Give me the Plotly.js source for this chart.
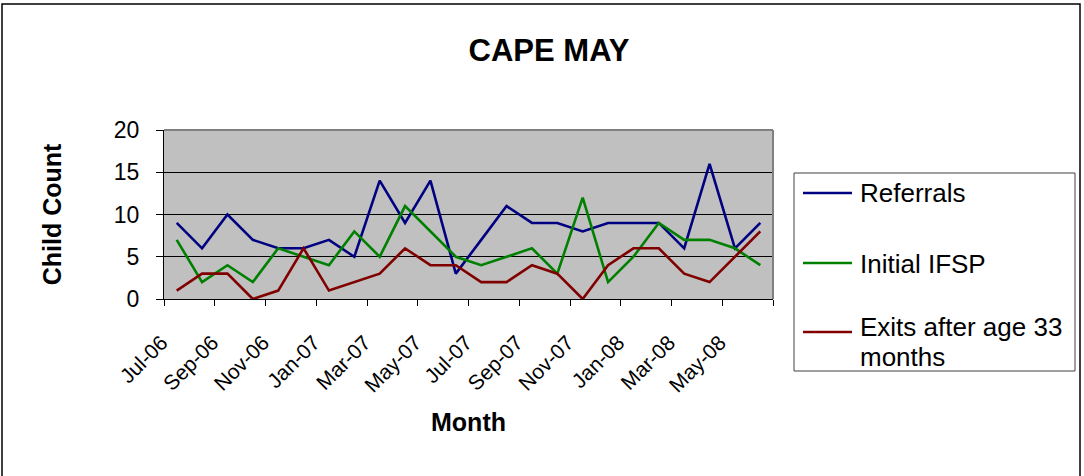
<!DOCTYPE html>
<html>
<head>
<meta charset="utf-8">
<script src="https://cdn.plot.ly/plotly-3.0.1.min.js"></script>
<style>html,body{margin:0;padding:0;background:#fff;}#chart{width:1084px;height:476px;}</style>
</head>
<body>
<div id="chart"></div>
<script>
const months = ["Jul-06","Aug-06","Sep-06","Oct-06","Nov-06","Dec-06","Jan-07","Feb-07","Mar-07","Apr-07","May-07","Jun-07","Jul-07","Aug-07","Sep-07","Oct-07","Nov-07","Dec-07","Jan-08","Feb-08","Mar-08","Apr-08","May-08","Jun-08"];
const referrals = [9,6,10,7,6,6,7,5,14,9,14,3,7,11,9,9,8,9,9,9,6,16,6,9];
const initialIFSP = [7,2,4,2,6,5,4,8,5,11,8,5,4,5,6,3,12,2,5,9,7,7,6,4];
const exitsAfter33 = [1,3,3,0,1,6,1,2,3,6,4,4,2,2,4,3,0,4,6,6,3,2,5,8];
const seriesNames = ["Referrals","Initial IFSP","Exits after age 33 months"];
const seriesColors = ["#000080","#008000","#800000"];

const idx = months.map((m,i)=>i);
const labelIdx = idx.filter(i=>i%2===0);
const labelText = labelIdx.map(i=>months[i]);
const FONT = "Arial, 'Liberation Sans', sans-serif";

const seriesValues = [referrals, initialIFSP, exitsAfter33];
const data = seriesValues.map((y,k)=>({
  x: idx, y: y, name: seriesNames[k], type:'scatter', mode:'lines',
  line:{color:seriesColors[k], width:2.6}, hoverinfo:'skip', showlegend:false
}));

const L=164, R=773, T=130, B=299;
const W=1084, H=476;
const px = v => (v-L)/(R-L);
const py = v => (B-v)/(B-T);

// legend (drawn as shapes + text)
const legendRows = [193, 263, 332];
const legendText = [[["Referrals",193]],[["Initial IFSP",264]],[["Exits after age 33",327],["months",357]]];
const shapes = [
  {type:'line', xref:'paper', yref:'paper', x0:0, x1:1, y0:1, y1:1, line:{color:'#808080', width:2}},
  {type:'line', xref:'paper', yref:'paper', x0:1, x1:1, y0:0, y1:1, line:{color:'#808080', width:2}},
  {type:'rect', xref:'paper', yref:'paper', x0:px(2), x1:px(1080), y0:py(4), y1:py(490), line:{color:'#000', width:1.5}, fillcolor:'rgba(0,0,0,0)'},
  {type:'rect', xref:'paper', yref:'paper', x0:px(794), x1:px(1075), y0:py(173), y1:py(371), line:{color:'#404040', width:1}, fillcolor:'#fff'}
];
const annotations = [];
legendRows.forEach((yy,k)=>{
  shapes.push({type:'line', xref:'paper', yref:'paper', x0:px(803), x1:px(852), y0:py(yy), y1:py(yy), line:{color:seriesColors[k], width:2.6}});
  legendText[k].forEach(([t,ty])=>{
    annotations.push({xref:'paper', yref:'paper', x:px(858), y:py(ty), xanchor:'left', yanchor:'middle',
      text:t, showarrow:false, font:{family:FONT, size:26, color:'#000'}});
  });
});

const layout = {
  width: W, height: H,
  margin: {l:L, r:W-R, t:T, b:H-B, pad:0},
  paper_bgcolor:'#ffffff', plot_bgcolor:'#c0c0c0',
  font:{family:FONT, color:'#000'},
  showlegend:false,
  title:{text:'<b>CAPE MAY</b>', font:{family:FONT, size:31, color:'#000'},
    x:549/W, xanchor:'center', xref:'container', y:1-50/H, yanchor:'middle', yref:'container'},
  xaxis:{
    range:[-0.5, 23.5], tickmode:'array', tickvals:labelIdx, ticktext:labelText,
    tickangle:-45, ticks:'', showgrid:false, zeroline:false,
    showline:true, linecolor:'#000', linewidth:1,
    tickfont:{family:FONT, size:21, color:'#000'},
    ticklabelstandoff:22, ticklabelshift:-15,
    minor:{tickmode:'linear', tick0:-0.5, dtick:2, ticks:'outside', ticklen:6, tickcolor:'#000', tickwidth:1, showgrid:false},
    title:{text:'<b>Month</b>', font:{family:FONT, size:25, color:'#000'}, standoff:18},
    fixedrange:true
  },
  yaxis:{
    range:[0,20], tickmode:'array', tickvals:[0,5,10,15,20], ticktext:['0','5','10','15','20'],
    ticks:'outside', ticklen:7, tickcolor:'#000', tickwidth:1,
    showgrid:true, gridcolor:'#000', gridwidth:1, zeroline:false,
    showline:true, linecolor:'#000', linewidth:1,
    tickfont:{family:FONT, size:23, color:'#000'},
    ticklabelstandoff:12,
    title:{text:'<b>Child Count</b>', font:{family:FONT, size:25, color:'#000'}, standoff:45},
    fixedrange:true
  },
  shapes: shapes,
  annotations: annotations
};

Plotly.newPlot('chart', data, layout, {displayModeBar:false, staticPlot:true});
</script>
</body>
</html>
